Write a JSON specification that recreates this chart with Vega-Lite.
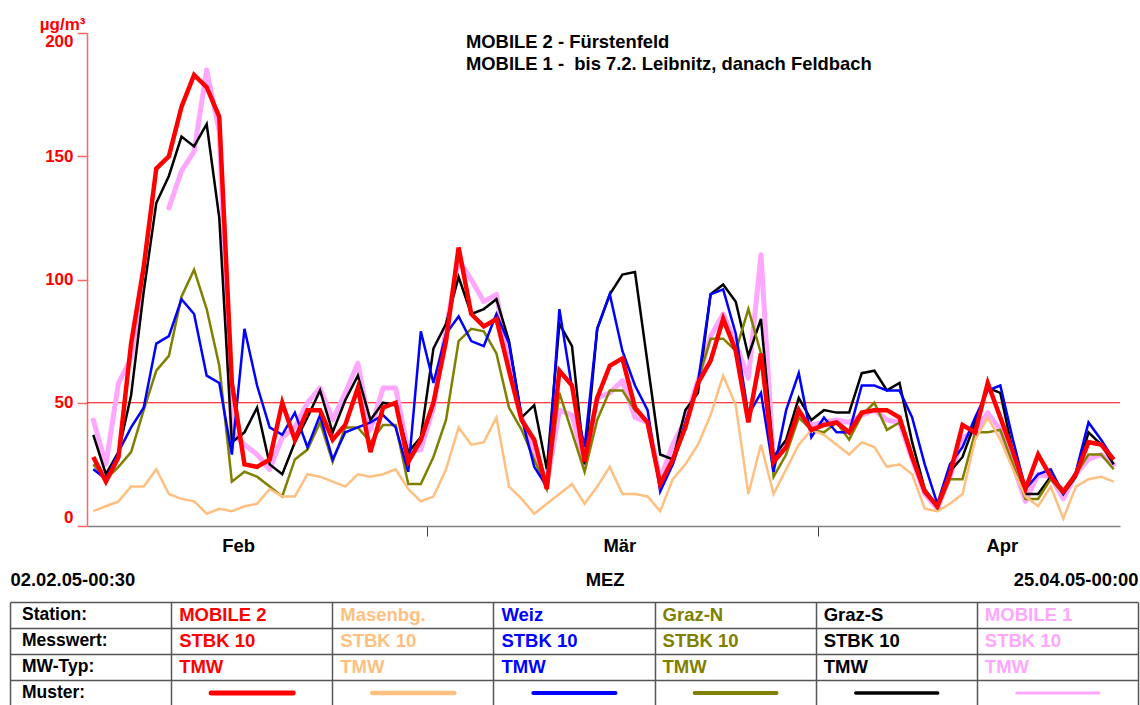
{
"$schema": "https://vega.github.io/schema/vega-lite/v6.json",
"background": "white",
"padding": {"left": 10, "top": 15, "right": 0, "bottom": 0},
"config": {"view": {"stroke": null}, "font": "Liberation Sans", "axis": {"labelFont": "Liberation Sans", "titleFont": "Liberation Sans"}},
"spacing": 15,
"datasets": {
"pm": [
{"d":"2005-02-02T12:00:00","M2":28,"Ma":6,"We":23,"GN":25,"GS":37,"M1":43},
{"d":"2005-02-03T12:00:00","M2":18,"Ma":8,"We":19,"GN":19,"GS":21,"M1":25},
{"d":"2005-02-04T12:00:00","M2":28,"Ma":10,"We":30,"GN":24,"GS":30,"M1":58},
{"d":"2005-02-05T12:00:00","M2":74,"Ma":16,"We":40,"GN":30,"GS":53,"M1":68},
{"d":"2005-02-06T12:00:00","M2":105,"Ma":16,"We":48,"GN":47,"GS":95,"M1":100},
{"d":"2005-02-07T12:00:00","M2":145,"Ma":23,"We":74,"GN":63,"GS":131,"M1":null},
{"d":"2005-02-08T12:00:00","M2":150,"Ma":13,"We":77,"GN":69,"GS":142,"M1":129},
{"d":"2005-02-09T12:00:00","M2":170,"Ma":11,"We":92,"GN":93,"GS":158,"M1":144},
{"d":"2005-02-10T12:00:00","M2":183,"Ma":10,"We":86,"GN":104,"GS":154,"M1":152},
{"d":"2005-02-11T12:00:00","M2":178,"Ma":5,"We":61,"GN":88,"GS":163,"M1":185},
{"d":"2005-02-12T12:00:00","M2":166,"Ma":7,"We":58,"GN":65,"GS":125,"M1":160},
{"d":"2005-02-13T12:00:00","M2":58,"Ma":6,"We":29,"GN":18,"GS":34,"M1":38},
{"d":"2005-02-14T12:00:00","M2":25,"Ma":8,"We":80,"GN":22,"GS":38,"M1":33},
{"d":"2005-02-15T12:00:00","M2":24,"Ma":9,"We":57,"GN":20,"GS":48,"M1":29},
{"d":"2005-02-16T12:00:00","M2":27,"Ma":15,"We":40,"GN":16,"GS":25,"M1":23},
{"d":"2005-02-17T12:00:00","M2":50,"Ma":12,"We":37,"GN":12,"GS":21,"M1":36},
{"d":"2005-02-18T12:00:00","M2":35,"Ma":12,"We":46,"GN":27,"GS":34,"M1":40},
{"d":"2005-02-19T12:00:00","M2":47,"Ma":21,"We":32,"GN":31,"GS":44,"M1":50},
{"d":"2005-02-20T12:00:00","M2":47,"Ma":20,"We":45,"GN":42,"GS":55,"M1":56},
{"d":"2005-02-21T12:00:00","M2":35,"Ma":18,"We":27,"GN":26,"GS":38,"M1":43},
{"d":"2005-02-22T12:00:00","M2":41,"Ma":16,"We":38,"GN":40,"GS":51,"M1":54},
{"d":"2005-02-23T12:00:00","M2":56,"Ma":21,"We":40,"GN":40,"GS":61,"M1":66},
{"d":"2005-02-24T12:00:00","M2":30,"Ma":20,"We":42,"GN":34,"GS":43,"M1":39},
{"d":"2005-02-25T12:00:00","M2":48,"Ma":21,"We":45,"GN":41,"GS":50,"M1":56},
{"d":"2005-02-26T12:00:00","M2":50,"Ma":23,"We":40,"GN":41,"GS":49,"M1":56},
{"d":"2005-02-27T12:00:00","M2":26,"Ma":15,"We":22,"GN":17,"GS":30,"M1":30},
{"d":"2005-02-28T12:00:00","M2":35,"Ma":10,"We":79,"GN":17,"GS":36,"M1":31},
{"d":"2005-03-01T12:00:00","M2":50,"Ma":12,"We":58,"GN":28,"GS":72,"M1":48},
{"d":"2005-03-02T12:00:00","M2":75,"Ma":23,"We":78,"GN":43,"GS":82,"M1":80},
{"d":"2005-03-03T12:00:00","M2":113,"Ma":40,"We":85,"GN":75,"GS":101,"M1":108},
{"d":"2005-03-04T12:00:00","M2":86,"Ma":33,"We":75,"GN":80,"GS":86,"M1":100},
{"d":"2005-03-05T12:00:00","M2":81,"Ma":34,"We":73,"GN":79,"GS":88,"M1":91},
{"d":"2005-03-06T12:00:00","M2":84,"Ma":44,"We":86,"GN":70,"GS":92,"M1":94},
{"d":"2005-03-07T12:00:00","M2":63,"Ma":16,"We":74,"GN":48,"GS":75,"M1":66},
{"d":"2005-03-08T12:00:00","M2":43,"Ma":11,"We":44,"GN":39,"GS":44,"M1":44},
{"d":"2005-03-09T12:00:00","M2":35,"Ma":5,"We":24,"GN":27,"GS":49,"M1":31},
{"d":"2005-03-10T12:00:00","M2":15,"Ma":9,"We":16,"GN":15,"GS":23,"M1":17},
{"d":"2005-03-11T12:00:00","M2":63,"Ma":13,"We":88,"GN":54,"GS":82,"M1":47},
{"d":"2005-03-12T12:00:00","M2":57,"Ma":17,"We":56,"GN":38,"GS":73,"M1":45},
{"d":"2005-03-13T12:00:00","M2":26,"Ma":9,"We":32,"GN":22,"GS":25,"M1":25},
{"d":"2005-03-14T12:00:00","M2":52,"Ma":16,"We":80,"GN":43,"GS":80,"M1":52},
{"d":"2005-03-15T12:00:00","M2":65,"Ma":24,"We":94,"GN":55,"GS":94,"M1":54},
{"d":"2005-03-16T12:00:00","M2":68,"Ma":13,"We":71,"GN":55,"GS":102,"M1":59},
{"d":"2005-03-17T12:00:00","M2":48,"Ma":13,"We":57,"GN":47,"GS":103,"M1":44},
{"d":"2005-03-18T12:00:00","M2":42,"Ma":12,"We":47,"GN":42,"GS":66,"M1":42},
{"d":"2005-03-19T12:00:00","M2":17,"Ma":6,"We":14,"GN":17,"GS":29,"M1":19},
{"d":"2005-03-20T12:00:00","M2":27,"Ma":19,"We":25,"GN":25,"GS":27,"M1":33},
{"d":"2005-03-21T12:00:00","M2":40,"Ma":25,"We":42,"GN":40,"GS":47,"M1":43},
{"d":"2005-03-22T12:00:00","M2":58,"Ma":33,"We":58,"GN":59,"GS":54,"M1":59},
{"d":"2005-03-23T12:00:00","M2":67,"Ma":45,"We":94,"GN":76,"GS":94,"M1":77},
{"d":"2005-03-24T12:00:00","M2":84,"Ma":61,"We":96,"GN":76,"GS":98,"M1":86},
{"d":"2005-03-25T12:00:00","M2":71,"Ma":49,"We":78,"GN":71,"GS":91,"M1":74},
{"d":"2005-03-26T12:00:00","M2":42,"Ma":13,"We":45,"GN":88,"GS":69,"M1":60},
{"d":"2005-03-27T12:00:00","M2":70,"Ma":33,"We":54,"GN":70,"GS":84,"M1":110},
{"d":"2005-03-28T12:00:00","M2":26,"Ma":13,"We":22,"GN":20,"GS":28,"M1":26},
{"d":"2005-03-29T12:00:00","M2":32,"Ma":23,"We":47,"GN":29,"GS":35,"M1":33},
{"d":"2005-03-30T12:00:00","M2":47,"Ma":33,"We":62,"GN":44,"GS":52,"M1":45},
{"d":"2005-03-31T12:00:00","M2":39,"Ma":39,"We":36,"GN":39,"GS":43,"M1":41},
{"d":"2005-04-01T12:00:00","M2":41,"Ma":37,"We":44,"GN":38,"GS":47,"M1":42},
{"d":"2005-04-02T12:00:00","M2":42,"Ma":33,"We":38,"GN":42,"GS":46,"M1":43},
{"d":"2005-04-03T12:00:00","M2":38,"Ma":29,"We":38,"GN":35,"GS":46,"M1":42},
{"d":"2005-04-04T12:00:00","M2":46,"Ma":34,"We":57,"GN":45,"GS":62,"M1":45},
{"d":"2005-04-05T12:00:00","M2":47,"Ma":32,"We":57,"GN":50,"GS":63,"M1":47},
{"d":"2005-04-06T12:00:00","M2":47,"Ma":24,"We":55,"GN":39,"GS":55,"M1":43},
{"d":"2005-04-07T12:00:00","M2":44,"Ma":25,"We":55,"GN":42,"GS":58,"M1":42},
{"d":"2005-04-08T12:00:00","M2":28,"Ma":21,"We":44,"GN":28,"GS":34,"M1":27},
{"d":"2005-04-09T12:00:00","M2":14,"Ma":7,"We":25,"GN":15,"GS":15,"M1":13},
{"d":"2005-04-10T12:00:00","M2":8,"Ma":6,"We":9,"GN":7,"GS":8,"M1":7},
{"d":"2005-04-11T12:00:00","M2":21,"Ma":9,"We":25,"GN":19,"GS":22,"M1":20},
{"d":"2005-04-12T12:00:00","M2":41,"Ma":13,"We":32,"GN":19,"GS":28,"M1":36},
{"d":"2005-04-13T12:00:00","M2":38,"Ma":35,"We":44,"GN":38,"GS":42,"M1":38},
{"d":"2005-04-14T12:00:00","M2":58,"Ma":44,"We":55,"GN":38,"GS":56,"M1":46},
{"d":"2005-04-15T12:00:00","M2":44,"Ma":35,"We":57,"GN":39,"GS":54,"M1":39},
{"d":"2005-04-16T12:00:00","M2":30,"Ma":23,"We":35,"GN":25,"GS":30,"M1":25},
{"d":"2005-04-17T12:00:00","M2":15,"Ma":12,"We":15,"GN":11,"GS":13,"M1":10},
{"d":"2005-04-18T12:00:00","M2":29,"Ma":8,"We":21,"GN":11,"GS":13,"M1":21},
{"d":"2005-04-19T12:00:00","M2":20,"Ma":16,"We":23,"GN":19,"GS":20,"M1":20},
{"d":"2005-04-20T12:00:00","M2":14,"Ma":3,"We":13,"GN":13,"GS":13,"M1":11},
{"d":"2005-04-21T12:00:00","M2":21,"Ma":16,"We":22,"GN":21,"GS":20,"M1":21},
{"d":"2005-04-22T12:00:00","M2":34,"Ma":19,"We":42,"GN":29,"GS":38,"M1":27},
{"d":"2005-04-23T12:00:00","M2":33,"Ma":20,"We":35,"GN":29,"GS":33,"M1":29},
{"d":"2005-04-24T12:00:00","M2":27,"Ma":18,"We":27,"GN":23,"GS":25,"M1":25}
],
"lab": [
{"c":0,"r":0,"t":"Station:","s":"L"},
{"c":0,"r":1,"t":"Messwert:","s":"L"},
{"c":0,"r":2,"t":"MW-Typ:","s":"L"},
{"c":0,"r":3,"t":"Muster:","s":"L"}
],
"tab": [
{"c":1,"r":0,"t":"MOBILE 2","s":"M2"},
{"c":1,"r":1,"t":"STBK 10","s":"M2"},
{"c":1,"r":2,"t":"TMW","s":"M2"},
{"c":2,"r":0,"t":"Masenbg.","s":"Ma"},
{"c":2,"r":1,"t":"STBK 10","s":"Ma"},
{"c":2,"r":2,"t":"TMW","s":"Ma"},
{"c":3,"r":0,"t":"Weiz","s":"We"},
{"c":3,"r":1,"t":"STBK 10","s":"We"},
{"c":3,"r":2,"t":"TMW","s":"We"},
{"c":4,"r":0,"t":"Graz-N","s":"GN"},
{"c":4,"r":1,"t":"STBK 10","s":"GN"},
{"c":4,"r":2,"t":"TMW","s":"GN"},
{"c":5,"r":0,"t":"Graz-S","s":"GS"},
{"c":5,"r":1,"t":"STBK 10","s":"GS"},
{"c":5,"r":2,"t":"TMW","s":"GS"},
{"c":6,"r":0,"t":"MOBILE 1","s":"M1"},
{"c":6,"r":1,"t":"STBK 10","s":"M1"},
{"c":6,"r":2,"t":"TMW","s":"M1"}
],
"smp": [
{"c":1,"r":3,"s":"M2"},
{"c":2,"r":3,"s":"Ma"},
{"c":3,"r":3,"s":"We"},
{"c":4,"r":3,"s":"GN"},
{"c":5,"r":3,"s":"GS"},
{"c":6,"r":3,"s":"M1"}
]
},
"vconcat": [
{
"width": 1033,
"height": 493,
"title": {"text": ["MOBILE 2 - Fürstenfeld", "MOBILE 1 - \u00a0bis 7.2. Leibnitz, danach Feldbach"], "orient": "none", "anchor": "start", "frame": "group", "baseline": "top", "dx": 379, "dy": 0, "fontSize": 18.4, "fontWeight": "bold", "lineHeight": 22, "color": "#000000", "font": "Liberation Sans"},
"layer": [
{
"data": {"values": [{}]},
"mark": {"type": "rule", "color": "#ff0000", "strokeWidth": 1},
"encoding": {"y": {"datum": 50, "type": "quantitative", "scale": {"domain": [0, 200], "nice": false}}}
},
{
"data": {"name": "pm"},
"transform": [{"fold": ["M1"], "as": ["s", "v"]}],
"mark": {"type": "line", "strokeWidth": 5, "strokeCap": "round", "strokeJoin": "round", "invalid": "break-paths-filter-domains"},
"encoding": {
"x": {"field": "d", "type": "temporal", "scale": {"domain": [{"year": 2005, "month": 2, "date": 2}, {"year": 2005, "month": 4, "date": 25}], "nice": false},
"axis": {"title": null, "values": [{"year": 2005, "month": 2, "date": 14}, {"year": 2005, "month": 3, "date": 1}, {"year": 2005, "month": 3, "date": 16, "hours": 6}, {"year": 2005, "month": 4, "date": 1}, {"year": 2005, "month": 4, "date": 15, "hours": 15}],
"labelExpr": "date(datum.value) == 1 ? '' : (month(datum.value) == 1 ? 'Feb' : (month(datum.value) == 2 ? 'Mär' : 'Apr'))",
"tickOpacity": {"condition": {"test": "date(datum.value) == 1", "value": 1}, "value": 0},
"tickSize": 10, "tickColor": "#404040", "tickWidth": 1, "domainColor": "#808080", "domainWidth": 1.5,
"labelFontSize": 18.4, "labelFontWeight": "bold", "labelColor": "#000000", "labelPadding": 0, "labelOverlap": false, "labelFlush": false, "grid": false}},
"y": {"field": "v", "type": "quantitative", "scale": {"domain": [0, 200], "nice": false},
"axis": {"values": [0, 50, 100, 150, 200], "title": "µg/m³", "titleAngle": 0, "titleX": -2, "titleY": -4, "titleAlign": "right", "titleBaseline": "alphabetic", "titleColor": "#ff0000", "titleFontSize": 17, "titleFontWeight": "bold",
"labelColor": "#ff0000", "labelFontSize": 17, "labelFontWeight": "bold", "labelFlush": true, "labelPadding": 4, "tickSize": 10, "tickColor": "#ff6666", "tickWidth": 1.5, "domainColor": "#ff6666", "domainWidth": 1.5, "grid": false}},
"color": {"field": "s", "type": "nominal", "scale": {"domain": ["M2", "Ma", "We", "GN", "GS", "M1", "L"], "range": ["#ff0000", "#ffbf80", "#0000ff", "#808000", "#000000", "#ffa6ff", "#000000"]}, "legend": null}
}
},
{
"data": {"name": "pm"},
"transform": [{"fold": ["GS", "GN", "We", "Ma"], "as": ["s", "v"]}],
"mark": {"type": "line", "strokeWidth": 2.5},
"encoding": {
"x": {"field": "d", "type": "temporal"},
"y": {"field": "v", "type": "quantitative"},
"color": {"field": "s", "type": "nominal", "scale": {"domain": ["M2", "Ma", "We", "GN", "GS", "M1", "L"], "range": ["#ff0000", "#ffbf80", "#0000ff", "#808000", "#000000", "#ffa6ff", "#000000"]}, "legend": null}
}
},
{
"data": {"name": "pm"},
"transform": [{"fold": ["M2"], "as": ["s", "v"]}],
"mark": {"type": "line", "strokeWidth": 4.5},
"encoding": {
"x": {"field": "d", "type": "temporal"},
"y": {"field": "v", "type": "quantitative"},
"color": {"field": "s", "type": "nominal", "scale": {"domain": ["M2", "Ma", "We", "GN", "GS", "M1", "L"], "range": ["#ff0000", "#ffbf80", "#0000ff", "#808000", "#000000", "#ffa6ff", "#000000"]}, "legend": null}
}
}
]
},
{
"width": 1033,
"height": 104,
"encoding": {
"x": {"field": "c", "type": "quantitative", "scale": {"domain": [0, 7], "range": [-77, 1051], "nice": false, "zero": false},
"axis": {"orient": "top", "title": null, "values": [0, 1, 2, 3, 3.69, 4, 5, 6, 7],
"labelExpr": "datum.value == 0 ? '02.02.05-00:30' : (datum.value == 7 ? '25.04.05-00:00' : (datum.value == 3.69 ? 'MEZ' : ''))",
"labelFlush": true, "labelOverlap": false, "ticks": false, "domain": false, "labelPadding": 13, "labelFontSize": 18.4, "labelFontWeight": "bold", "labelColor": "#000000",
"grid": true, "gridColor": "#555555", "gridWidth": 1.5, "gridOpacity": {"condition": {"test": "datum.value == 3.69", "value": 0}, "value": 1}}},
"y": {"field": "r", "type": "quantitative", "scale": {"domain": [0, 4], "range": [0, 104], "nice": false, "zero": false},
"axis": {"title": null, "values": [0, 1, 2, 3, 4], "labels": false, "ticks": false, "domain": false, "grid": true, "gridColor": "#555555", "gridWidth": 1.5}}
},
"layer": [
{
"data": {"name": "lab"},
"mark": {"type": "text", "align": "left", "baseline": "middle", "dx": 12, "dy": 13, "fontSize": 17.5, "fontWeight": "bold", "font": "Liberation Sans"},
"encoding": {
"text": {"field": "t"},
"color": {"field": "s", "type": "nominal", "scale": {"domain": ["M2", "Ma", "We", "GN", "GS", "M1", "L"], "range": ["#ff0000", "#ffbf80", "#0000ff", "#808000", "#000000", "#ffa6ff", "#000000"]}, "legend": null}
}
},
{
"data": {"name": "tab"},
"mark": {"type": "text", "align": "left", "baseline": "middle", "dx": 8, "dy": 13, "fontSize": 18.5, "fontWeight": "bold", "font": "Liberation Sans"},
"encoding": {
"text": {"field": "t"},
"color": {"field": "s", "type": "nominal", "scale": {"domain": ["M2", "Ma", "We", "GN", "GS", "M1", "L"], "range": ["#ff0000", "#ffbf80", "#0000ff", "#808000", "#000000", "#ffa6ff", "#000000"]}, "legend": null}
}
},
{
"data": {"name": "smp"},
"mark": {"type": "rule", "xOffset": 40, "x2Offset": 122, "yOffset": 13, "strokeCap": "round"},
"encoding": {
"x2": {"field": "c"},
"color": {"field": "s", "type": "nominal", "scale": {"domain": ["M2", "Ma", "We", "GN", "GS", "M1", "L"], "range": ["#ff0000", "#ffbf80", "#0000ff", "#808000", "#000000", "#ffa6ff", "#000000"]}, "legend": null},
"strokeWidth": {"field": "s", "type": "ordinal", "scale": {"domain": ["M2", "Ma", "We", "GN", "GS", "M1"], "range": [5, 3, 3, 3, 3, 5]}, "legend": null}
}
}
]
}
]
}
